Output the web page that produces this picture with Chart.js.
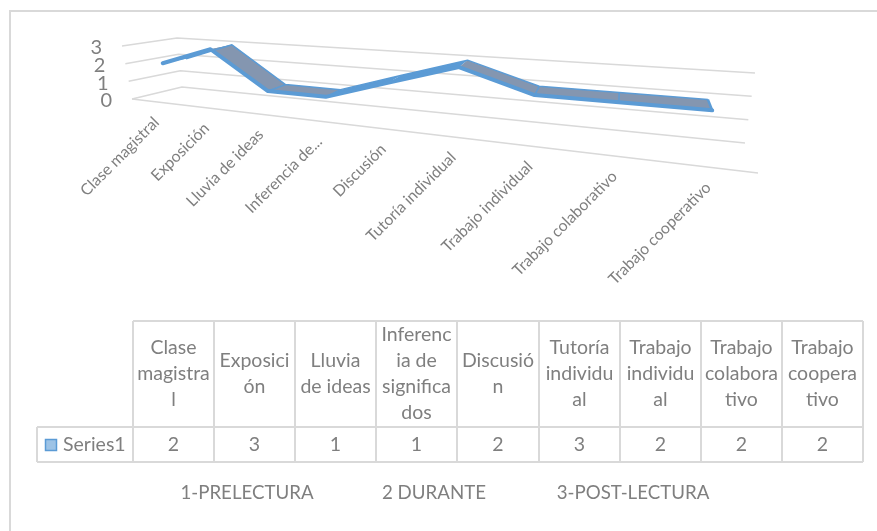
<!DOCTYPE html>
<html><head><meta charset="utf-8">
<style>html,body{margin:0;padding:0;background:#fff}canvas{display:block}</style>
<script src="https://cdn.jsdelivr.net/npm/chart.js@4"></script>
</head><body><canvas id="c" width="877" height="531"></canvas>
<script>
const categories = ["Clase magistral","Exposición","Lluvia de ideas","Inferencia de...","Discusión","Tutoría individual","Trabajo individual","Trabajo colaborativo","Trabajo cooperativo"];
const tableHeaders = [["Clase","magistra","l"],["Exposici","ón"],["Lluvia","de ideas"],["Inferenc","ia de","significa","dos"],["Discusió","n"],["Tutoría","individu","al"],["Trabajo","individu","al"],["Trabajo","colabora","tivo"],["Trabajo","coopera","tivo"]];
const seriesName = "Series1";
const values = [2,3,1,1,2,3,2,2,2];
const footerLabels = ["1-PRELECTURA","2 DURANTE","3-POST-LECTURA"];

const TEXT='#7f7f7f', GRID='#d9d9d9', BLUE='#5b9bd5', FACE='#8496b0';
const box={fl:[132,99],fr:[758,173],bl:[182,87],br:[745,143],tfl:[122,46],tfr:[771,95],tbl:[177,38],tbr:[755,73]};
const K=1.5, VMAX=3, W_FRONT=0.26, W_BACK=0.72;
const lerp=(a,b,t)=>[a[0]+(b[0]-a[0])*t,a[1]+(b[1]-a[1])*t];
function project(u,w,v){
  const t=u/(u+K*(1-u));
  const floor=lerp(lerp(box.fl,box.fr,t),lerp(box.bl,box.br,t),w);
  const top=lerp(lerp(box.tfl,box.tfr,t),lerp(box.tbl,box.tbr,t),w);
  return lerp(floor,top,v/VMAX);
}
const line=(ctx,pts,col,lw)=>{ctx.beginPath();pts.forEach((p,i)=>i?ctx.lineTo(p[0],p[1]):ctx.moveTo(p[0],p[1]));ctx.strokeStyle=col;ctx.lineWidth=lw;ctx.lineJoin='round';ctx.stroke();};

const projector={
  id:'projector',
  afterDatasetsUpdate(chart){
    const a=chart.chartArea, ys=chart.scales.y;
    chart.data.datasets.forEach((ds,di)=>{
      const w=di===0?W_FRONT:W_BACK;
      chart.getDatasetMeta(di).data.forEach(pt=>{
        const u=(pt.x-a.left)/(a.right-a.left), v=ys.getValueForPixel(pt.y);
        const p=project(u,w,v); pt.x=p[0]; pt.y=p[1];
      });
    });
  },
  beforeDatasetsDraw(chart){
    const ctx=chart.ctx, ys=chart.scales.y, xs=chart.scales.x;
    ctx.save();
    ys.ticks.forEach(tk=>{
      const v=tk.value;
      line(ctx,[project(0,0,v),project(0,1,v),project(1,1,v)],GRID,1.5);
      ctx.font='20px Lato'; ctx.fillStyle=TEXT; ctx.textAlign='right'; ctx.textBaseline='middle';
      const p=project(0,0,v);
      ctx.fillText(String(tk.label),p[0]-20,p[1]+2);
    });
    line(ctx,[project(0,0,0),project(1,0,0)],GRID,1.5);
    xs.getLabels().forEach((lab,i)=>{
      const p=project((xs.getPixelForValue(i)-chart.chartArea.left)/chart.chartArea.width,0,0);
      ctx.save(); ctx.translate(p[0]+1,p[1]+18); ctx.rotate(-Math.PI/4);
      ctx.font='15.8px Lato'; ctx.fillStyle=TEXT; ctx.textAlign='right'; ctx.textBaseline='middle';
      ctx.fillText(lab,0,0); ctx.restore();
    });
    const f=chart.getDatasetMeta(0).data, b=chart.getDatasetMeta(1).data;
    const vals=chart.data.datasets[0].data;
    for(let i=0;i<f.length-1;i++){
      ctx.beginPath();ctx.moveTo(f[i].x,f[i].y);ctx.lineTo(f[i+1].x,f[i+1].y);ctx.lineTo(b[i+1].x,b[i+1].y);ctx.lineTo(b[i].x,b[i].y);ctx.closePath();
      ctx.fillStyle=vals[i+1]<=vals[i]?FACE:BLUE; ctx.fill();
    }
    for(let i=1;i<f.length;i++){
      if(i===f.length-1||vals[i]<=vals[i-1])
        line(ctx,[[f[i].x,f[i].y],[b[i].x,b[i].y]],BLUE,i===f.length-1?2.5:1.5);
    }
    ctx.restore();
  },
  afterDraw(chart){
    const ctx=chart.ctx; ctx.save();
    ctx.strokeStyle=GRID; ctx.lineWidth=2;
    ctx.beginPath();ctx.moveTo(10,531);ctx.lineTo(10,11);ctx.lineTo(877,11);ctx.stroke();
    const cols=[133,214,295,376,457,539,620,701,782,863], top=321, mid=427, bot=462, legL=37;
    ctx.strokeStyle=GRID; ctx.lineWidth=2;
    ctx.beginPath();
    cols.forEach(x=>{ctx.moveTo(x,top);ctx.lineTo(x,bot);});
    ctx.moveTo(cols[0],top);ctx.lineTo(cols[9],top);
    [mid,bot].forEach(y=>{ctx.moveTo(legL,y);ctx.lineTo(cols[9],y);});
    ctx.moveTo(legL,mid);ctx.lineTo(legL,bot);
    ctx.stroke();
    ctx.fillStyle=TEXT; ctx.textAlign='center'; ctx.textBaseline='middle'; ctx.font='19.5px Lato';
    tableHeaders.forEach((lines,i)=>{
      const cx=(cols[i]+cols[i+1])/2, cy=(top+mid)/2;
      lines.forEach((s,j)=>ctx.fillText(s,cx,cy+(j-(lines.length-1)/2)*26));
      ctx.fillText(String(values[i]),cx,(mid+bot)/2);
    });
    ctx.textAlign='left'; ctx.fillText(seriesName,63,(mid+bot)/2);
    ctx.fillStyle='#9dc3e6'; ctx.strokeStyle=BLUE; ctx.lineWidth=1.5; ctx.fillRect(45.5,439.5,11,11); ctx.strokeRect(45.5,439.5,11,11);
    ctx.fillStyle=TEXT; ctx.textAlign='center'; ctx.font='18.7px Lato';
    [247,434,633].forEach((x,i)=>ctx.fillText(footerLabels[i],x,493));
    ctx.restore();
  }
};

new Chart(document.getElementById('c'),{
  type:'line',
  data:{labels:categories,datasets:[
    {label:seriesName,data:values,borderColor:BLUE,borderWidth:4,pointRadius:0,tension:0,clip:false,fill:false,order:0,borderJoinStyle:'round',borderCapStyle:'round'},
    {label:seriesName+' (back edge)',data:values,borderColor:BLUE,borderWidth:1.5,pointRadius:0,tension:0,clip:false,fill:false,order:1,borderJoinStyle:'round'}
  ]},
  plugins:[projector],
  options:{
    responsive:false,animation:false,
    layout:{padding:0},
    plugins:{legend:{display:false},title:{display:false},tooltip:{enabled:false}},
    scales:{
      x:{offset:true,ticks:{display:false},grid:{display:false},border:{display:false}},
      y:{min:0,max:3,ticks:{display:false,stepSize:1},grid:{display:false},border:{display:false}}
    }
  }
});
</script></body></html>
